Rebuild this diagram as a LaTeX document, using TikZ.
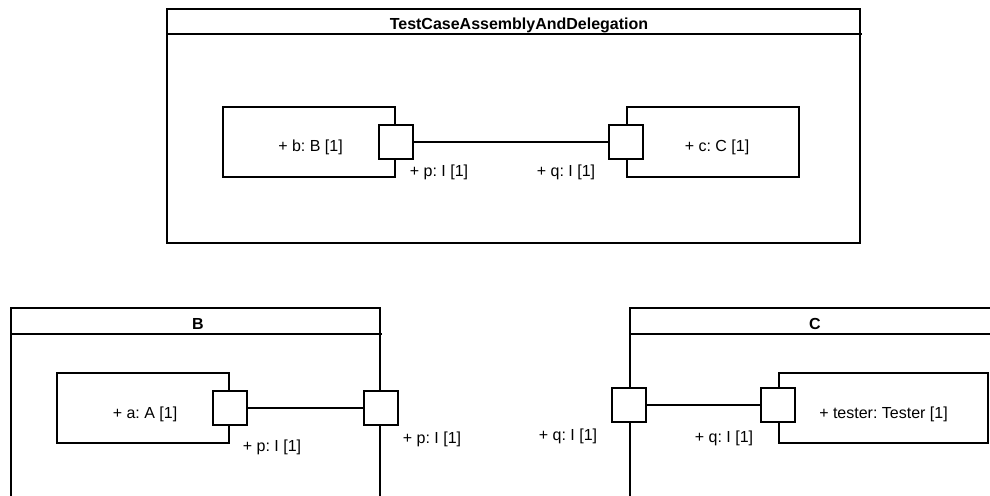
\documentclass[tikz,border=0pt]{standalone}
\usepackage{fontspec}
\setmainfont{Liberation Sans}
\frenchspacing
\usetikzlibrary{positioning}

\begin{document}
\begin{tikzpicture}[x=0.5pt,y=-0.5pt,line width=1pt,
    port/.style={draw,fill=white,minimum size=17pt,inner sep=0pt},
    part/.style={draw,minimum height=35pt,inner sep=0pt,text height=10pt,text depth=0pt,
        font=\fontsize{8}{9.6}\selectfont},
    lbl/.style={inner sep=0pt,text height=5.8pt,text depth=0pt,font=\fontsize{8}{9.6}\selectfont},
    title/.style={inner sep=0pt,text height=5.8pt,text depth=0pt,font=\fontsize{8}{9.6}\selectfont\bfseries}
]

% Page size
\useasboundingbox (0,0) rectangle (990,495);
\clip (0,0) rectangle (990,495);

% --- Frame TestCaseAssemblyAndDelegation ---
\draw (167,9) rectangle (860,243);
\draw (167,33.5) -- (862,33.5);
\node[title] (tcad) at (519,23.5) {TestCaseAssemblyAndDelegation};

% Parts b and c
\node[part,minimum width=86pt] (b) at (308.5,141.5) {\hspace{2pt}+ b: B [1]};
\node[part,minimum width=86pt] (c) at (713,141.5) {\hspace{4pt}+ c: C [1]};

% Ports p and q
\node[port] (bp) at (b.east) {};
\node[port] (cq) at (c.west) {};
\draw (bp) -- (cq);

\node[lbl] (bplbl) at (439,171) {+ p: I [1]};
\node[lbl] (cqlbl) at (566,171) {+ q: I [1]};

% --- Frame B ---
\draw (11,530) -- (11,308) -- (380,308) -- (380,530);
\draw (11,333.5) -- (382,333.5);
\node[title] (Btitle) at (198,323.5) {B};

\node[part,minimum width=86pt] (a) at (143,408) {\hspace{2pt}+ a: A [1]};
\node[port] (ap) at (a.east) {};
\node[port] (Bp) at (380.5,408) {};
\draw (ap) -- (Bp);

\node[lbl] (aplbl) at (272,446) {+ p: I [1]};
\node[lbl] (Bplbl) at (432,438) {+ p: I [1]};

% --- Frame C ---
\draw (630,530) -- (630,308) -- (1010,308);
\draw (630,333.5) -- (1010,333.5);
\node[title] (Ctitle) at (815,323.5) {C};

\node[part,minimum width=104.5pt] (tester) at (883.5,408) {+ tester: Tester [1]};
\node[port] (testerq) at ([yshift=1.5pt]tester.west) {};
\node[port] (Cq) at (629,405) {};
\draw (Cq) -- (testerq);

\node[lbl] (Cqlbl) at (568,435) {+ q: I [1]};
\node[lbl] (testerqlbl) at (724,437) {+ q: I [1]};

\end{tikzpicture}
\end{document}
